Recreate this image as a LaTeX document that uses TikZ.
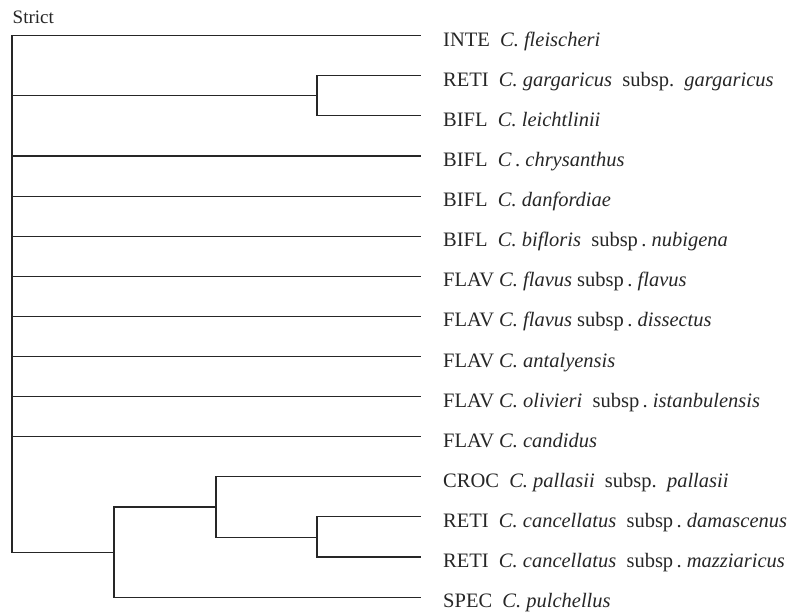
\documentclass[tikz,border=0pt]{standalone}
\usepackage{fontspec}
\setmainfont{Liberation Serif}
\begin{document}
\begin{tikzpicture}[x=1pt, y=-1pt,
    branch/.style={line width=1.1pt, black!85, line cap=rect},
    taxon/.style={anchor=base west, inner sep=0pt, xshift=23pt, yshift=-10.5pt,
                  font=\fontsize{20.5}{22}\selectfont, text=black!85},
    hdr/.style={anchor=base west, inner sep=0pt, font=\fontsize{19}{21}\selectfont, text=black!85}
  ]
  \useasboundingbox (0,0) rectangle (798,614);
  % --- Leaf tips ---
  \foreach \i in {1,...,15}
    \coordinate (l\i) at (420, {35.7+(\i-1)*40.1});
  % --- Inner nodes ---
  \coordinate (root) at (12, 36);
  \coordinate (n23) at (317, 95.85);
  \coordinate (c1314) at (317, 537.05);
  \coordinate (b12) at (216, 507);
  \coordinate (a15) at (114, 552.1);
  % --- Header ---
  \node[hdr] (strict) at (12.5, 23.3) {Strict};
  % --- Branches ---
  \draw[branch] (l1) -| (a15 -| root) -- (a15);
  \foreach \i in {4,...,11}
    \draw[branch] (l\i) -- (l\i -| root);
  \draw[branch] (n23 -| root) -- (n23);
  \draw[branch] (l2) -| (n23) |- (l3);
  \draw[branch] (l13) -| (c1314) |- (l14);
  \draw[branch] (l12) -| (b12) |- (c1314);
  \draw[branch] (b12) -| (a15) |- (l15);
  % --- Taxon labels ---
  \foreach \i/\txt in {
      1/{INTE\ \ \emph{C. fleischeri}},
      2/{RETI\ \ \emph{C. gargaricus}\ \ subsp.\ \ \emph{gargaricus}},
      3/{BIFL\ \ \emph{C. leichtlinii}},
      4/{BIFL\ \ \emph{C}\,.\ \emph{chrysanthus}},
      5/{BIFL\ \ \emph{C. danfordiae}},
      6/{BIFL\ \ \emph{C. bifloris}\ \ subsp\,.\ \emph{nubigena}},
      7/{FLAV \emph{C. flavus} subsp\,.\ \emph{flavus}},
      8/{FLAV \emph{C. flavus} subsp\,.\ \emph{dissectus}},
      9/{FLAV \emph{C. antalyensis}},
      10/{FLAV \emph{C. olivieri}\ \ subsp\,.\ \emph{istanbulensis}},
      11/{FLAV \emph{C. candidus}},
      12/{CROC\ \ \emph{C. pallasii}\ \ subsp.\ \ \emph{pallasii}},
      13/{RETI\ \ \emph{C. cancellatus}\ \ subsp\,.\ \emph{damascenus}},
      14/{RETI\ \ \emph{C. cancellatus}\ \ subsp\,.\ \emph{mazziaricus}},
      15/{SPEC\ \ \emph{C. pulchellus}}}
    \node[taxon] (t\i) at (l\i) {\txt};
\end{tikzpicture}
\end{document}
